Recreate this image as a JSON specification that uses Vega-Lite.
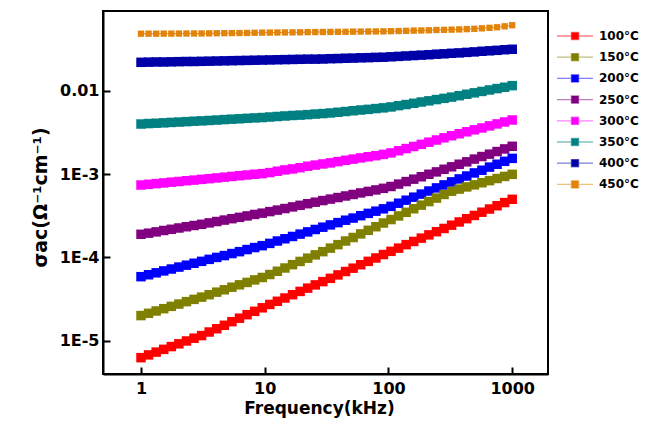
{
  "$schema": "https://vega.github.io/schema/vega-lite/v6.json",
  "width": 445,
  "height": 363,
  "autosize": {"type": "none"},
  "padding": {"left": 103, "top": 11, "right": 98, "bottom": 52},
  "background": "white",
  "config": {
    "font": "DejaVu Sans",
    "view": {"stroke": "black", "strokeWidth": 2},
    "axis": {
      "domainColor": "black", "domainWidth": 2,
      "tickColor": "black", "tickWidth": 2, "tickSize": -7,
      "labelFont": "DejaVu Sans", "labelFontWeight": "bold", "labelFontSize": 16, "labelColor": "black",
      "titleFont": "DejaVu Sans", "titleFontWeight": "bold", "titleFontSize": 17, "titleColor": "black",
      "grid": false, "labelOverlap": false, "labelFlush": false
    }
  },
  "datasets": {
    "d": [
      {"f": 1, "100°C": 6.25e-6, "150°C": 2.00e-5, "200°C": 5.86e-5, "250°C": 1.89e-4, "300°C": 7.38e-4, "350°C": 3.98e-3, "400°C": 2.19e-2, "450°C": 4.83e-2},
      {"f": 1.151, "100°C": 6.75e-6, "150°C": 2.13e-5, "200°C": 6.18e-5, "250°C": 1.95e-4, "300°C": 7.52e-4, "350°C": 4.03e-3, "400°C": 2.20e-2, "450°C": 4.83e-2},
      {"f": 1.326, "100°C": 7.29e-6, "150°C": 2.27e-5, "200°C": 6.52e-5, "250°C": 2.02e-4, "300°C": 7.67e-4, "350°C": 4.07e-3, "400°C": 2.21e-2, "450°C": 4.83e-2},
      {"f": 1.527, "100°C": 7.87e-6, "150°C": 2.42e-5, "200°C": 6.87e-5, "250°C": 2.10e-4, "300°C": 7.82e-4, "350°C": 4.11e-3, "400°C": 2.21e-2, "450°C": 4.84e-2},
      {"f": 1.758, "100°C": 8.49e-6, "150°C": 2.58e-5, "200°C": 7.24e-5, "250°C": 2.17e-4, "300°C": 7.98e-4, "350°C": 4.16e-3, "400°C": 2.22e-2, "450°C": 4.84e-2},
      {"f": 2.024, "100°C": 9.16e-6, "150°C": 2.75e-5, "200°C": 7.64e-5, "250°C": 2.25e-4, "300°C": 8.13e-4, "350°C": 4.20e-3, "400°C": 2.23e-2, "450°C": 4.85e-2},
      {"f": 2.330, "100°C": 9.91e-6, "150°C": 2.94e-5, "200°C": 8.05e-5, "250°C": 2.33e-4, "300°C": 8.30e-4, "350°C": 4.25e-3, "400°C": 2.24e-2, "450°C": 4.85e-2},
      {"f": 2.683, "100°C": 1.07e-5, "150°C": 3.13e-5, "200°C": 8.49e-5, "250°C": 2.41e-4, "300°C": 8.45e-4, "350°C": 4.30e-3, "400°C": 2.24e-2, "450°C": 4.86e-2},
      {"f": 3.089, "100°C": 1.15e-5, "150°C": 3.33e-5, "200°C": 8.95e-5, "250°C": 2.49e-4, "300°C": 8.63e-4, "350°C": 4.34e-3, "400°C": 2.25e-2, "450°C": 4.86e-2},
      {"f": 3.556, "100°C": 1.27e-5, "150°C": 3.56e-5, "200°C": 9.46e-5, "250°C": 2.59e-4, "300°C": 8.79e-4, "350°C": 4.39e-3, "400°C": 2.26e-2, "450°C": 4.875e-2},
      {"f": 4.095, "100°C": 1.39e-5, "150°C": 3.82e-5, "200°C": 9.98e-5, "250°C": 2.69e-4, "300°C": 8.97e-4, "350°C": 4.44e-3, "400°C": 2.27e-2, "450°C": 4.89e-2},
      {"f": 4.715, "100°C": 1.53e-5, "150°C": 4.08e-5, "200°C": 1.05e-4, "250°C": 2.80e-4, "300°C": 9.16e-4, "350°C": 4.50e-3, "400°C": 2.28e-2, "450°C": 4.90e-2},
      {"f": 5.429, "100°C": 1.69e-5, "150°C": 4.38e-5, "200°C": 1.11e-4, "250°C": 2.91e-4, "300°C": 9.35e-4, "350°C": 4.55e-3, "400°C": 2.29e-2, "450°C": 4.91e-2},
      {"f": 6.251, "100°C": 1.86e-5, "150°C": 4.68e-5, "200°C": 1.17e-4, "250°C": 3.02e-4, "300°C": 9.55e-4, "350°C": 4.60e-3, "400°C": 2.30e-2, "450°C": 4.92e-2},
      {"f": 7.197, "100°C": 2.05e-5, "150°C": 5.00e-5, "200°C": 1.24e-4, "250°C": 3.14e-4, "300°C": 9.73e-4, "350°C": 4.66e-3, "400°C": 2.31e-2, "450°C": 4.93e-2},
      {"f": 8.286, "100°C": 2.25e-5, "150°C": 5.36e-5, "200°C": 1.31e-4, "250°C": 3.27e-4, "300°C": 9.93e-4, "350°C": 4.71e-3, "400°C": 2.32e-2, "450°C": 4.95e-2},
      {"f": 9.541, "100°C": 2.48e-5, "150°C": 5.73e-5, "200°C": 1.38e-4, "250°C": 3.39e-4, "300°C": 1.01e-3, "350°C": 4.76e-3, "400°C": 2.33e-2, "450°C": 4.97e-2},
      {"f": 10.99, "100°C": 2.72e-5, "150°C": 6.22e-5, "200°C": 1.47e-4, "250°C": 3.54e-4, "300°C": 1.04e-3, "350°C": 4.83e-3, "400°C": 2.34e-2, "450°C": 4.98e-2},
      {"f": 12.65, "100°C": 2.97e-5, "150°C": 6.81e-5, "200°C": 1.57e-4, "250°C": 3.69e-4, "300°C": 1.08e-3, "350°C": 4.90e-3, "400°C": 2.35e-2, "450°C": 4.99e-2},
      {"f": 14.56, "100°C": 3.25e-5, "150°C": 7.45e-5, "200°C": 1.67e-4, "250°C": 3.85e-4, "300°C": 1.12e-3, "350°C": 4.97e-3, "400°C": 2.36e-2, "450°C": 5.00e-2},
      {"f": 16.77, "100°C": 3.56e-5, "150°C": 8.17e-5, "200°C": 1.78e-4, "250°C": 4.03e-4, "300°C": 1.15e-3, "350°C": 5.04e-3, "400°C": 2.37e-2, "450°C": 5.01e-2},
      {"f": 19.31, "100°C": 3.90e-5, "150°C": 8.93e-5, "200°C": 1.90e-4, "250°C": 4.21e-4, "300°C": 1.19e-3, "350°C": 5.09e-3, "400°C": 2.38e-2, "450°C": 5.02e-2},
      {"f": 22.23, "100°C": 4.27e-5, "150°C": 9.77e-5, "200°C": 2.02e-4, "250°C": 4.40e-4, "300°C": 1.24e-3, "350°C": 5.16e-3, "400°C": 2.39e-2, "450°C": 5.04e-2},
      {"f": 25.60, "100°C": 4.67e-5, "150°C": 1.07e-4, "200°C": 2.16e-4, "250°C": 4.59e-4, "300°C": 1.28e-3, "350°C": 5.24e-3, "400°C": 2.39e-2, "450°C": 5.05e-2},
      {"f": 29.47, "100°C": 5.11e-5, "150°C": 1.17e-4, "200°C": 2.30e-4, "250°C": 4.80e-4, "300°C": 1.32e-3, "350°C": 5.31e-3, "400°C": 2.40e-2, "450°C": 5.06e-2},
      {"f": 33.93, "100°C": 5.60e-5, "150°C": 1.29e-4, "200°C": 2.45e-4, "250°C": 5.00e-4, "300°C": 1.36e-3, "350°C": 5.40e-3, "400°C": 2.42e-2, "450°C": 5.07e-2},
      {"f": 39.07, "100°C": 6.15e-5, "150°C": 1.42e-4, "200°C": 2.61e-4, "250°C": 5.22e-4, "300°C": 1.41e-3, "350°C": 5.51e-3, "400°C": 2.43e-2, "450°C": 5.08e-2},
      {"f": 44.99, "100°C": 6.76e-5, "150°C": 1.57e-4, "200°C": 2.79e-4, "250°C": 5.45e-4, "300°C": 1.46e-3, "350°C": 5.62e-3, "400°C": 2.45e-2, "450°C": 5.09e-2},
      {"f": 51.79, "100°C": 7.41e-5, "150°C": 1.73e-4, "200°C": 2.96e-4, "250°C": 5.68e-4, "300°C": 1.51e-3, "350°C": 5.74e-3, "400°C": 2.46e-2, "450°C": 5.11e-2},
      {"f": 59.64, "100°C": 8.15e-5, "150°C": 1.91e-4, "200°C": 3.16e-4, "250°C": 5.93e-4, "300°C": 1.56e-3, "350°C": 5.86e-3, "400°C": 2.48e-2, "450°C": 5.12e-2},
      {"f": 68.66, "100°C": 8.95e-5, "150°C": 2.11e-4, "200°C": 3.37e-4, "250°C": 6.18e-4, "300°C": 1.61e-3, "350°C": 5.97e-3, "400°C": 2.49e-2, "450°C": 5.13e-2},
      {"f": 79.06, "100°C": 9.82e-5, "150°C": 2.33e-4, "200°C": 3.58e-4, "250°C": 6.44e-4, "300°C": 1.66e-3, "350°C": 6.10e-3, "400°C": 2.51e-2, "450°C": 5.14e-2},
      {"f": 91.03, "100°C": 1.08e-4, "150°C": 2.58e-4, "200°C": 3.82e-4, "250°C": 6.73e-4, "300°C": 1.72e-3, "350°C": 6.22e-3, "400°C": 2.52e-2, "450°C": 5.15e-2},
      {"f": 104.8, "100°C": 1.18e-4, "150°C": 2.84e-4, "200°C": 4.09e-4, "250°C": 7.08e-4, "300°C": 1.79e-3, "350°C": 6.38e-3, "400°C": 2.55e-2, "450°C": 5.18e-2},
      {"f": 120.7, "100°C": 1.29e-4, "150°C": 3.14e-4, "200°C": 4.46e-4, "250°C": 7.57e-4, "300°C": 1.90e-3, "350°C": 6.61e-3, "400°C": 2.58e-2, "450°C": 5.20e-2},
      {"f": 138.9, "100°C": 1.42e-4, "150°C": 3.47e-4, "200°C": 4.85e-4, "250°C": 8.11e-4, "300°C": 2.02e-3, "350°C": 6.82e-3, "400°C": 2.61e-2, "450°C": 5.22e-2},
      {"f": 160.0, "100°C": 1.55e-4, "150°C": 3.83e-4, "200°C": 5.27e-4, "250°C": 8.67e-4, "300°C": 2.14e-3, "350°C": 7.06e-3, "400°C": 2.64e-2, "450°C": 5.26e-2},
      {"f": 184.2, "100°C": 1.70e-4, "150°C": 4.23e-4, "200°C": 5.74e-4, "250°C": 9.27e-4, "300°C": 2.27e-3, "350°C": 7.31e-3, "400°C": 2.67e-2, "450°C": 5.28e-2},
      {"f": 212.1, "100°C": 1.86e-4, "150°C": 4.67e-4, "200°C": 6.25e-4, "250°C": 9.93e-4, "300°C": 2.41e-3, "350°C": 7.55e-3, "400°C": 2.70e-2, "450°C": 5.31e-2},
      {"f": 244.2, "100°C": 2.03e-4, "150°C": 5.14e-4, "200°C": 6.81e-4, "250°C": 1.06e-3, "300°C": 2.56e-3, "350°C": 7.82e-3, "400°C": 2.74e-2, "450°C": 5.35e-2},
      {"f": 281.2, "100°C": 2.22e-4, "150°C": 5.68e-4, "200°C": 7.40e-4, "250°C": 1.14e-3, "300°C": 2.72e-3, "350°C": 8.09e-3, "400°C": 2.77e-2, "450°C": 5.37e-2},
      {"f": 323.7, "100°C": 2.43e-4, "150°C": 6.22e-4, "200°C": 8.05e-4, "250°C": 1.22e-3, "300°C": 2.88e-3, "350°C": 8.37e-3, "400°C": 2.81e-2, "450°C": 5.40e-2},
      {"f": 372.8, "100°C": 2.66e-4, "150°C": 6.59e-4, "200°C": 8.73e-4, "250°C": 1.31e-3, "300°C": 3.04e-3, "350°C": 8.71e-3, "400°C": 2.84e-2, "450°C": 5.43e-2},
      {"f": 429.2, "100°C": 2.91e-4, "150°C": 7.00e-4, "200°C": 9.46e-4, "250°C": 1.40e-3, "300°C": 3.21e-3, "350°C": 9.06e-3, "400°C": 2.88e-2, "450°C": 5.48e-2},
      {"f": 494.2, "100°C": 3.18e-4, "150°C": 7.41e-4, "200°C": 1.03e-3, "250°C": 1.51e-3, "300°C": 3.39e-3, "350°C": 9.42e-3, "400°C": 2.92e-2, "450°C": 5.53e-2},
      {"f": 569.0, "100°C": 3.48e-4, "150°C": 7.85e-4, "200°C": 1.11e-3, "250°C": 1.62e-3, "300°C": 3.57e-3, "350°C": 9.79e-3, "400°C": 2.97e-2, "450°C": 5.60e-2},
      {"f": 655.1, "100°C": 3.80e-4, "150°C": 8.32e-4, "200°C": 1.21e-3, "250°C": 1.73e-3, "300°C": 3.78e-3, "350°C": 1.02e-2, "400°C": 3.01e-2, "450°C": 5.68e-2},
      {"f": 754.3, "100°C": 4.16e-4, "150°C": 8.83e-4, "200°C": 1.31e-3, "250°C": 1.86e-3, "300°C": 3.99e-3, "350°C": 1.06e-2, "400°C": 3.05e-2, "450°C": 5.77e-2},
      {"f": 868.5, "100°C": 4.54e-4, "150°C": 9.35e-4, "200°C": 1.42e-3, "250°C": 2.00e-3, "300°C": 4.21e-3, "350°C": 1.10e-2, "400°C": 3.10e-2, "450°C": 5.92e-2},
      {"f": 1000, "100°C": 4.97e-4, "150°C": 9.91e-4, "200°C": 1.54e-3, "250°C": 2.15e-3, "300°C": 4.45e-3, "350°C": 1.15e-2, "400°C": 3.14e-2, "450°C": 6.10e-2}
    ]
  },
  "data": {"name": "d"},
  "transform": [
    {"fold": ["100°C", "150°C", "200°C", "250°C", "300°C", "350°C", "400°C", "450°C"], "as": ["T", "s"]}
  ],
  "encoding": {
    "x": {
      "field": "f", "type": "quantitative",
      "scale": {"type": "log", "domain": [0.493, 1946], "nice": false},
      "axis": {"values": [1, 10, 100, 1000], "format": "d", "title": "Frequency(kHz)", "labelPadding": 13, "titlePadding": 4, "titleX": 216}
    },
    "y": {
      "field": "s", "type": "quantitative",
      "scale": {"type": "log", "domain": [3.98e-6, 0.0904], "nice": false},
      "axis": {
        "values": [1e-5, 1e-4, 1e-3, 1e-2],
        "labelExpr": "datum.value >= 0.005 ? '0.01' : '1E' + round(log(datum.value) / LN10)",
        "title": "σac(Ω⁻¹cm⁻¹)", "titleFontSize": 19, "labelPadding": 11, "titlePadding": 9, "titleY": 186
      }
    },
    "color": {
      "field": "T", "type": "nominal",
      "scale": {
        "domain": ["100°C", "150°C", "200°C", "250°C", "300°C", "350°C", "400°C", "450°C"],
        "range": ["#FF0000", "#808000", "#0000FF", "#800080", "#FF00FF", "#008080", "#0000A8", "#E3840A"]
      },
      "legend": {
        "orient": "none", "legendX": 465, "legendY": 18, "title": null, "padding": 0,
        "symbolType": "M-3,0L-0.6,0M0.6,0L3,0M-0.6,-0.6L0.6,-0.6L0.6,0.6L-0.6,0.6Z",
        "symbolSize": 144, "symbolStrokeWidth": 1.3,
        "labelFont": "DejaVu Sans", "labelFontWeight": "bold", "labelFontSize": 12, "labelColor": "black",
        "labelOffset": 17, "rowPadding": 7.2,
        "encode": {
          "symbols": {
            "update": {
              "fill": {"scale": "color", "field": "value"},
              "stroke": {"scale": "color", "field": "value"},
              "strokeOpacity": {"value": 0.5},
              "opacity": {"value": 1}
            }
          }
        }
      }
    }
  },
  "layer": [
    {"mark": {"type": "line", "strokeWidth": 1}},
    {
      "mark": {"type": "point", "shape": "square", "filled": true, "opacity": 1},
      "encoding": {
        "size": {"condition": {"test": "datum.T === '450°C'", "value": 40}, "value": 90}
      }
    }
  ]
}
